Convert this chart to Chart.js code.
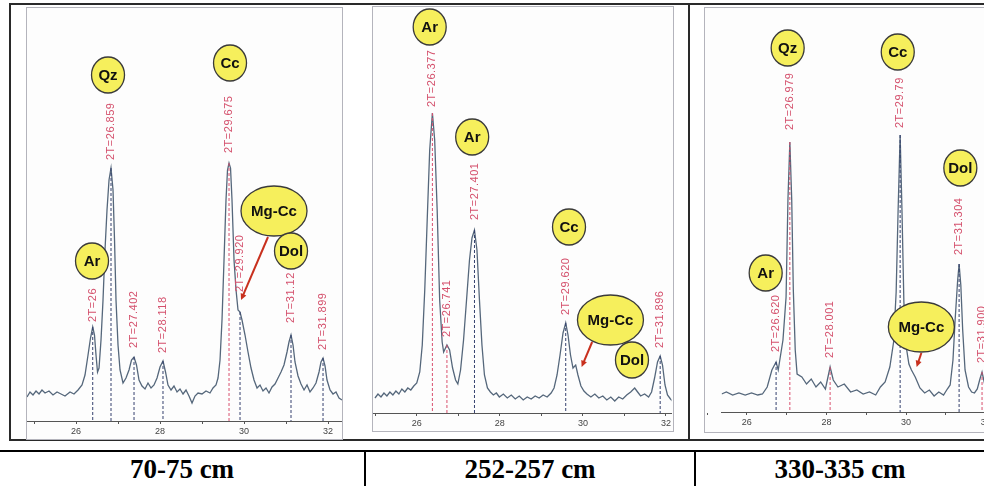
<!DOCTYPE html>
<html>
<head>
<meta charset="utf-8">
<script src="https://cdn.jsdelivr.net/npm/chart.js@4.4.1/dist/chart.umd.min.js"></script>
<style>
  body { margin: 0; width: 984px; height: 486px; overflow: hidden; background: #fff; position: relative; font-family: "Liberation Sans", Arial, sans-serif; }
  .fig { position: absolute; left: 9px; top: 3px; width: 1000px; height: 434px; border: 2px solid #2a2a2a; border-right: none; }
  .divider { position: absolute; left: 688px; top: 3px; width: 2px; height: 438px; background: #2a2a2a; }
  .plot { position: absolute; border: 1px solid #b4b4bc; background: #fdfdfd; }
  .plot canvas { display: block; }
  .tblline { position: absolute; left: 0; top: 450px; width: 984px; height: 2px; background: #000; }
  .vline { position: absolute; top: 452px; width: 2px; height: 34px; background: #000; }
  .cell { position: absolute; top: 452px; height: 34px; line-height: 34px; text-align: center;
          font-family: "Liberation Serif", "Times New Roman", serif; font-weight: bold; font-size: 27px; color: #000; }
</style>
</head>
<body>
<div class="fig"></div>
<div class="divider"></div>
<div class="plot" style="left:26px; top:7px;"><canvas id="xrd1" width="315" height="431"></canvas></div>
<div class="plot" style="left:372px; top:6px;"><canvas id="xrd2" width="300" height="424"></canvas></div>
<div class="plot" style="left:704px; top:7px;"><canvas id="xrd3" width="294" height="424"></canvas></div>
<div class="tblline"></div>
<div class="vline" style="left:364px;"></div>
<div class="vline" style="left:694px;"></div>
<div class="cell" style="left:0; width:364px;">70-75 cm</div>
<div class="cell" style="left:366px; width:328px;">252-257 cm</div>
<div class="cell" style="left:696px; width:288px;">330-335 cm</div>

<script>
// ---- 70-75 cm ----
const theta1 = [24.833, 24.905, 24.976, 25.048, 25.119, 25.190, 25.262, 25.357, 25.452, 25.548,
  25.643, 25.738, 25.857, 25.952, 26.048, 26.143, 26.214, 26.286, 26.345, 26.398,
  26.440, 26.476, 26.512, 26.548, 26.595, 26.643, 26.690, 26.738, 26.786, 26.833,
  26.881, 26.917, 26.952, 27.000, 27.048, 27.119, 27.190, 27.262, 27.321, 27.381,
  27.440, 27.500, 27.571, 27.643, 27.714, 27.786, 27.857, 27.929, 28.000, 28.071,
  28.131, 28.190, 28.262, 28.333, 28.405, 28.476, 28.548, 28.619, 28.690, 28.762,
  28.833, 28.905, 29.000, 29.095, 29.190, 29.262, 29.333, 29.381, 29.429, 29.476,
  29.524, 29.571, 29.607, 29.643, 29.679, 29.714, 29.762, 29.810, 29.857, 29.905,
  29.952, 30.024, 30.095, 30.167, 30.238, 30.310, 30.381, 30.452, 30.524, 30.595,
  30.667, 30.738, 30.810, 30.881, 30.952, 31.024, 31.071, 31.119, 31.167, 31.214,
  31.286, 31.357, 31.429, 31.500, 31.571, 31.643, 31.714, 31.786, 31.833, 31.881,
  31.929, 31.976, 32.048, 32.119, 32.190, 32.262, 32.333];
const counts1 = [24, 29, 26, 30, 27, 31, 28, 30, 26, 29,
  27, 25, 29, 27, 31, 36, 46, 66, 83, 94,
  86, 66, 49, 53, 81, 121, 171, 211, 241, 253,
  231, 181, 121, 76, 51, 38, 43, 51, 61, 64,
  56, 41, 35, 32, 38, 33, 36, 43, 54, 60,
  49, 36, 31, 35, 29, 32, 27, 31, 25, 18,
  25, 28, 27, 30, 28, 33, 36, 43, 61, 101,
  161, 221, 251, 258, 253, 221, 161, 131, 111, 109,
  101, 86, 69, 53, 41, 33, 36, 30, 33, 28,
  34, 37, 43, 49, 56, 69, 79, 86, 76, 59,
  45, 37, 31, 36, 29, 33, 38, 49, 59, 63,
  55, 41, 31, 27, 29, 23, 21];
const peakPos1 = [26.398, 26.833, 27.381, 28.071, 29.643, 29.905, 31.119, 31.881];
const peakTop1 = [94, 253, 64, 60, 258, 109, 86, 63];
const peakText1 = ['2T=26', '2T=26.859', '2T=27.402', '2T=28.118', '2T=29.675', '2T=29.920', '2T=31.12', '2T=31.899'];
const textFrom1 = [99, 261, 73, 68, 268, 129, 98, 71];
const redLines1 = [4];
const mineral1 = ['Qz', 'Cc', 'Ar', 'Mg-Cc', 'Dol'];
const mineralX1 = [26.762, 29.667, 26.381, 30.714, 31.119];
const mineralY1 = [346, 358, 160, 210, 170];
const arrow1 = [30.571, 184, 29.929, 121];

// ---- 252-257 cm ----
const theta2 = [24.994, 25.066, 25.138, 25.210, 25.281, 25.353, 25.425, 25.497, 25.569, 25.641,
  25.713, 25.784, 25.856, 25.928, 26.000, 26.072, 26.132, 26.192, 26.251, 26.311,
  26.376, 26.431, 26.491, 26.551, 26.611, 26.647, 26.726, 26.790, 26.862, 26.934,
  26.989, 27.054, 27.126, 27.198, 27.269, 27.329, 27.389, 27.449, 27.509, 27.569,
  27.629, 27.701, 27.772, 27.844, 27.916, 27.988, 28.084, 28.180, 28.275, 28.371,
  28.467, 28.563, 28.659, 28.754, 28.850, 28.946, 29.042, 29.138, 29.234, 29.305,
  29.377, 29.449, 29.521, 29.586, 29.641, 29.701, 29.761, 29.826, 29.880, 29.952,
  30.024, 30.096, 30.192, 30.287, 30.383, 30.479, 30.575, 30.671, 30.766, 30.862,
  30.958, 31.054, 31.150, 31.246, 31.317, 31.389, 31.485, 31.581, 31.653, 31.725,
  31.796, 31.860, 31.916, 31.976, 32.036, 32.108, 32.156];
const counts2 = [15, 19, 16, 20, 17, 21, 18, 22, 19, 24,
  21, 25, 23, 27, 30, 41, 68, 123, 193, 263,
  300, 273, 203, 113, 71, 61, 68, 63, 45, 33,
  29, 43, 73, 113, 153, 175, 183, 163, 113, 68,
  38, 25, 21, 18, 20, 16, 19, 15, 18, 14,
  17, 13, 16, 14, 17, 15, 18, 16, 20, 25,
  38, 58, 80, 90, 78, 58, 45, 48, 38, 27,
  22, 19, 16, 19, 15, 17, 13, 16, 12, 16,
  14, 18, 21, 25, 21, 17, 19, 16, 21, 35,
  51, 57, 48, 28, 18, 14, 12];
const peakPos2 = [26.376, 26.726, 27.389, 29.586, 31.860];
const peakTop2 = [300, 68, 183, 90, 57];
const peakText2 = ['2T=26.377', '2T=26.741', '2T=27.401', '2T=29.620', '2T=31.896'];
const textFrom2 = [306, 76, 193, 98, 65];
const redLines2 = [0, 1];
const mineral2 = ['Ar', 'Ar', 'Cc', 'Mg-Cc', 'Dol'];
const mineralX2 = [26.311, 27.334, 29.665, 30.663, 31.181];
const mineralY2 = [386, 276, 186, 93, 53];
const arrow2 = [30.222, 71, 29.969, 46];

// ---- 330-335 cm ----
const theta3 = [25.367, 25.486, 25.645, 25.801, 25.960, 26.118, 26.275, 26.393, 26.512, 26.630,
  26.735, 26.789, 26.908, 26.986, 27.033, 27.081, 27.128, 27.168, 27.216, 27.263,
  27.382, 27.500, 27.618, 27.737, 27.855, 27.974, 28.092, 28.171, 28.289, 28.448,
  28.607, 28.763, 28.922, 29.081, 29.237, 29.355, 29.474, 29.592, 29.687, 29.751,
  29.799, 29.851, 29.898, 29.945, 29.993, 30.071, 30.135, 30.230, 30.348, 30.467,
  30.585, 30.704, 30.822, 30.941, 31.036, 31.107, 31.178, 31.232, 31.296, 31.332,
  31.375, 31.422, 31.481, 31.569, 31.647, 31.718, 31.789, 31.848, 31.908, 31.979,
  32.073, 32.192, 32.358];
const counts3 = [18, 20, 17, 19, 17, 19, 17, 18, 25, 42,
  50, 42, 72, 115, 212, 270, 212, 122, 62, 38,
  35, 28, 33, 25, 30, 23, 45, 32, 25, 28,
  20, 22, 18, 20, 17, 25, 30, 45, 70, 120,
  200, 277, 200, 110, 68, 48, 42, 35, 24, 19,
  22, 16, 20, 17, 23, 27, 52, 92, 132, 148,
  127, 82, 42, 25, 20, 19, 23, 32, 40, 27,
  19, 17, 18];
const peakPos3 = [26.735, 27.081, 28.092, 29.851, 31.332, 31.908];
const peakTop3 = [50, 270, 45, 277, 148, 40];
const peakText3 = ['2T=26.620', '2T=26.979', '2T=28.001', '2T=29.79', '2T=31.304', '2T=31.900'];
const textFrom3 = [60, 282, 54, 284, 157, 49];
const redLines3 = [1, 2, 5];
const mineral3 = ['Qz', 'Cc', 'Dol', 'Ar', 'Mg-Cc'];
const mineralX3 = [27.026, 29.791, 31.363, 26.474, 30.384];
const mineralY3 = [364, 360, 244, 139, 85];
const arrow3 = [30.384, 59, 30.265, 45];

const tickVals = [25, 26, 27, 28, 29, 30, 31, 32];

// peak labels, mineral bubbles and the red arrow
const markup = {
  id: 'markup',
  afterDatasetsDraw(chart, args, opts) {
    const ctx = chart.ctx;
    const x = chart.scales.x, y = chart.scales.y;
    ctx.save();

    ctx.fillStyle = '#d4506c';
    ctx.font = '11px "Liberation Sans", Arial';
    ctx.letterSpacing = '0.5px';
    ctx.textAlign = 'left';
    ctx.textBaseline = 'middle';
    opts.text.forEach((t, i) => {
      ctx.save();
      ctx.translate(x.getPixelForValue(opts.pos[i]), y.getPixelForValue(opts.from[i]));
      ctx.rotate(-Math.PI / 2);
      ctx.fillText(t, 0, 0);
      ctx.restore();
    });
    ctx.letterSpacing = '0px';

    // arrow
    const a = opts.arrow;
    const x0 = x.getPixelForValue(a[0]), y0 = y.getPixelForValue(a[1]);
    const x1 = x.getPixelForValue(a[2]), y1 = y.getPixelForValue(a[3]);
    const ang = Math.atan2(y1 - y0, x1 - x0);
    ctx.strokeStyle = '#c8301e';
    ctx.fillStyle = '#c8301e';
    ctx.lineWidth = 2;
    ctx.beginPath();
    ctx.moveTo(x0, y0);
    ctx.lineTo(x1 - 5 * Math.cos(ang), y1 - 5 * Math.sin(ang));
    ctx.stroke();
    ctx.beginPath();
    ctx.moveTo(x1, y1);
    ctx.lineTo(x1 - 7 * Math.cos(ang - 0.45), y1 - 7 * Math.sin(ang - 0.45));
    ctx.lineTo(x1 - 7 * Math.cos(ang + 0.45), y1 - 7 * Math.sin(ang + 0.45));
    ctx.closePath();
    ctx.fill();

    // bubbles
    ctx.textAlign = 'center';
    opts.minerals.forEach((m, i) => {
      const px = x.getPixelForValue(opts.mx[i]);
      const py = y.getPixelForValue(opts.my[i]);
      const big = m === 'Mg-Cc';
      ctx.beginPath();
      ctx.ellipse(px, py, big ? 33 : 16.5, big ? 25 : 18, 0, 0, Math.PI * 2);
      ctx.fillStyle = '#f6ef5c';
      ctx.fill();
      ctx.lineWidth = 1.3;
      ctx.strokeStyle = '#3a3a3a';
      ctx.stroke();
      ctx.fillStyle = '#111';
      ctx.font = 'bold 15px "Liberation Sans", Arial';
      ctx.fillText(m, px, py + 1);
    });
    ctx.restore();
  }
};

function drawPanel(id, theta, counts, peakPos, peakTop, peakText, textFrom, redLines,
                   minerals, mx, my, arrow, xMin, xMax, yMax, axisH) {
  const datasets = peakPos.map((p, i) => ({
    data: [{ x: p, y: peakTop[i] }, { x: p, y: 0 }],
    borderColor: redLines.includes(i) ? '#d9506e' : '#34406e',
    borderWidth: 1,
    borderDash: [3, 2],
    pointRadius: 0
  }));
  datasets.push({
    data: theta.map((t, i) => ({ x: t, y: counts[i] })),
    borderColor: '#55677b',
    borderWidth: 1.3,
    pointRadius: 0
  });

  new Chart(document.getElementById(id), {
    type: 'line',
    data: { datasets: datasets },
    options: {
      responsive: false,
      animation: false,
      layout: { padding: 0, autoPadding: false },
      plugins: {
        legend: { display: false },
        tooltip: { enabled: false },
        markup: { pos: peakPos, text: peakText, from: textFrom, minerals: minerals, mx: mx, my: my, arrow: arrow }
      },
      scales: {
        x: {
          type: 'linear',
          min: xMin,
          max: xMax,
          afterBuildTicks: s => { s.ticks = tickVals.map(v => ({ value: v })); },
          afterFit: s => { s.height = axisH; },
          ticks: {
            callback: v => (v % 2 === 0 ? String(v) : ''),
            font: { size: 9, family: '"Liberation Sans", Arial' },
            color: '#444',
            padding: 2,
            maxRotation: 0,
            autoSkip: false
          },
          grid: { drawOnChartArea: false, drawTicks: true, tickLength: 3, color: '#555' },
          border: { display: true, color: '#555', width: 1 }
        },
        y: { display: false, min: 0, max: yMax }
      }
    },
    plugins: [markup]
  });
}

drawPanel('xrd1', theta1, counts1, peakPos1, peakTop1, peakText1, textFrom1, redLines1,
  mineral1, mineralX1, mineralY1, arrow1, 24.833, 32.333, 413, 18);
drawPanel('xrd2', theta2, counts2, peakPos2, peakTop2, peakText2, textFrom2, redLines2,
  mineral2, mineralX2, mineralY2, arrow2, 24.946, 32.132, 406, 18);
drawPanel('xrd3', theta3, counts3, peakPos3, peakTop3, peakText3, textFrom3, redLines3,
  mineral3, mineralX3, mineralY3, arrow3, 25.367, 32.334, 404, 20);
</script>
</body>
</html>
